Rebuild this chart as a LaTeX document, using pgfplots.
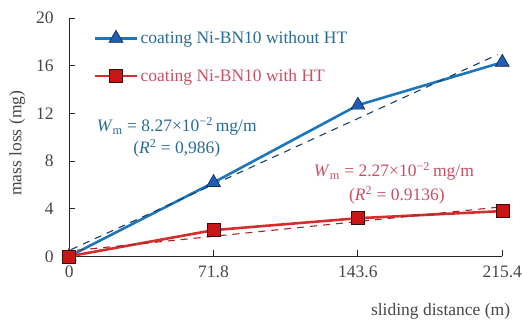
\documentclass[border=0pt]{standalone}
\usepackage{fontspec}
\setmainfont{Liberation Serif}
\usepackage{pgfplots}
\pgfplotsset{compat=1.18}
\definecolor{bline}{RGB}{28,118,188}
\definecolor{bmark}{RGB}{30,95,175}
\definecolor{bedge}{RGB}{20,40,80}
\definecolor{rline}{RGB}{212,45,45}
\definecolor{rmark}{RGB}{200,22,22}
\definecolor{redge}{RGB}{60,10,10}
\definecolor{btext}{RGB}{40,108,150}
\definecolor{rtext}{RGB}{200,80,100}
\definecolor{tgray}{RGB}{70,70,70}
\begin{document}
\begin{tikzpicture}
\begin{axis}[
  scale only axis, width=433pt, height=238pt,
  xmin=0, xmax=215.4, ymin=0, ymax=20,
  axis x line=bottom, axis y line=left,
  axis line style={-, draw=black!85, line width=0.9pt},
  xtick={0,71.8,143.6,215.4}, xticklabels={0,71.8,143.6,215.4},
  ytick={0,4,8,12,16,20},
  tick align=inside, major tick length=6pt,
  tick style={black!85, line width=0.9pt},
  /pgf/number format/assume math mode=true,
  ticklabel style={font=\rmfamily\fontsize{17.5}{20}\selectfont, text=tgray},
  xticklabel style={yshift=-6pt, inner xsep=0pt},
  yticklabel style={xshift=-12pt},
  ylabel={mass loss (mg)},
  ylabel style={font=\rmfamily\fontsize{17.5}{20}\selectfont, text=tgray, yshift=4pt, xshift=-6pt},
  xlabel={sliding distance (m)},
  xlabel style={font=\rmfamily\fontsize{17.5}{20}\selectfont, text=tgray, at={(axis description cs:1,0)}, anchor=north east, yshift=-43pt, xshift=8pt, inner xsep=0pt},
  clip=false,
  legend style={draw=none, fill=none, at={(axis description cs:0.06,1.0)}, anchor=north west, yshift=-11pt, xshift=-2pt,
    font=\rmfamily\fontsize{17.5}{20}\selectfont, row sep=20pt, inner sep=0pt},
  legend cell align=left,
  legend image code/.code={
    \draw[#1, mark=none] (0cm,0cm) -- (1.5cm,0cm);
    \draw[#1, only marks] plot coordinates {(0.75cm,0cm)};
  },
]
\addplot[bline, line width=2.6pt, mark=triangle*, mark size=8pt,
  mark options={fill=bmark, draw=bedge, line width=0.6pt, solid}]
  coordinates {(0,0) (71.8,6.2) (143.6,12.7) (215.4,16.3)};
\addlegendentry{\textcolor{btext}{coating Ni-BN10 without HT}}
\addplot[rline, line width=2.6pt, mark=square*, mark size=6.5pt,
  mark options={fill=rmark, draw=redge, line width=0.6pt, solid}]
  coordinates {(0,0) (71.8,2.2) (143.6,3.2) (215.4,3.8)};
\addlegendentry{\textcolor{rtext}{coating Ni-BN10 with HT}}
\addplot[bedge!70!bline, line width=1.1pt, dash pattern=on 7pt off 6pt, forget plot]
  coordinates {(1,0.57) (213,16.94)};
\addplot[rline!80!black, line width=1.1pt, dash pattern=on 7pt off 6pt, forget plot]
  coordinates {(4,0.51) (213,4.12)};
\node[text=btext, font=\rmfamily\fontsize{17.5}{20}\selectfont] at (axis cs:53.5,10.9)
  {\textit{W}\textsubscript{m} = 8.27×10\textsuperscript{−2}\,mg/m};
\node[text=btext, font=\rmfamily\fontsize{17.5}{20}\selectfont] at (axis cs:53.5,9.06)
  {(\textit{R}\textsuperscript{2} = 0,986)};
\node[text=rtext, font=\rmfamily\fontsize{17.5}{20}\selectfont] at (axis cs:161.5,7.15)
  {\textit{W}\textsubscript{m} = 2.27×10\textsuperscript{−2}\,mg/m};
\node[text=rtext, font=\rmfamily\fontsize{17.5}{20}\selectfont] at (axis cs:163,5.1)
  {(\textit{R}\textsuperscript{2} = 0.9136)};
\end{axis}
\path (current bounding box.north) ++(0,9pt);
\path (current bounding box.west) ++(-6pt,0);
\end{tikzpicture}
\end{document}
